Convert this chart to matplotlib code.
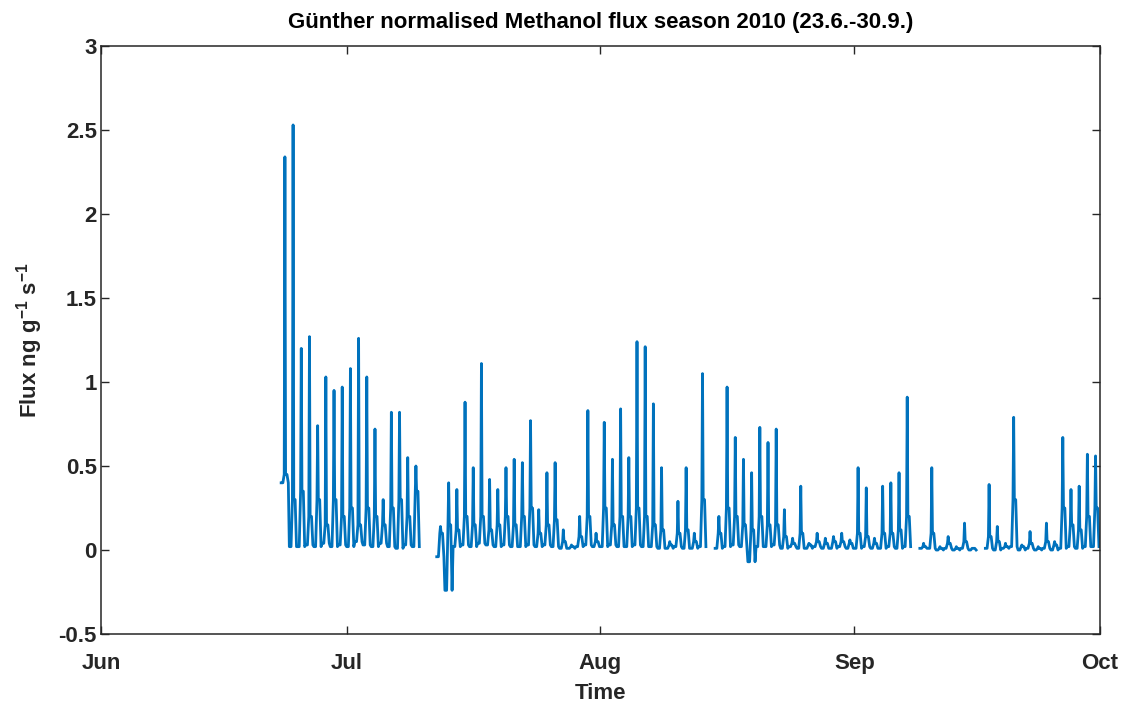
import numpy as np
import pandas as pd
import matplotlib
matplotlib.use("Agg")
import matplotlib.pyplot as plt

plt.rcParams["font.family"] = ["Liberation Sans", "DejaVu Sans"]
plt.rcParams["font.weight"] = "bold"
plt.rcParams["mathtext.fontset"] = "custom"
plt.rcParams["mathtext.rm"] = "Liberation Sans:bold"
plt.rcParams["mathtext.bf"] = "Liberation Sans:bold"

nan = np.nan

# one entry per day, 23 Jun .. 30 Sep 2010
first_day = "2010-06-23"
peak = [2.34, 2.53, 1.20, 1.27, 0.74, 1.03, 0.95, 0.97, 1.08, 1.26,
        1.03, 0.72, 0.30, 0.82, 0.82, 0.55, 0.50, nan, nan, 0.14,
        0.40, 0.36, 0.88, 0.49, 1.11, 0.42, 0.36, 0.49, 0.54, 0.52,
        0.77, 0.24, 0.46, 0.52, 0.12, 0.03, 0.20, 0.83, 0.10, 0.76,
        0.54, 0.84, 0.55, 1.24, 1.21, 0.87, 0.49, 0.05, 0.29, 0.49,
        0.10, 1.05, nan, 0.20, 0.97, 0.67, 0.54, 0.46, 0.73, 0.64,
        0.72, 0.24, 0.07, 0.38, 0.04, 0.10, 0.07, 0.08, 0.10, 0.06,
        0.49, 0.37, 0.07, 0.38, 0.40, 0.46, 0.91, nan, 0.04, 0.49,
        0.02, 0.08, 0.02, 0.16, 0.01, nan, 0.39, 0.14, 0.04, 0.79,
        0.03, 0.11, 0.02, 0.16, 0.05, 0.67, 0.36, 0.38, 0.57, 0.56]
afternoon = [0.45, 0.30, 0.35, 0.20, 0.30, 0.15, 0.30, 0.20, 0.25, 0.15,
             0.25, 0.20, 0.15, 0.25, 0.30, 0.20, 0.35, nan, nan, 0.10,
             0.15, 0.12, 0.20, 0.15, 0.20, 0.12, 0.15, 0.20, 0.15, 0.20,
             0.25, 0.10, 0.15, 0.18, 0.05, 0.02, 0.08, 0.20, 0.05, 0.25,
             0.15, 0.20, 0.20, 0.25, 0.20, 0.15, 0.12, 0.03, 0.10, 0.12,
             0.05, 0.30, nan, 0.10, 0.25, 0.20, 0.15, 0.12, 0.20, 0.15,
             0.15, 0.08, 0.04, 0.10, 0.03, 0.05, 0.04, 0.05, 0.05, 0.04,
             0.10, 0.08, 0.04, 0.10, 0.10, 0.12, 0.20, nan, 0.02, 0.10,
             0.01, 0.04, 0.01, 0.05, 0.01, nan, 0.08, 0.05, 0.02, 0.30,
             0.02, 0.04, 0.01, 0.05, 0.03, 0.25, 0.15, 0.12, 0.20, 0.25]
night = [0.40, 0.02, 0.02, 0.03, 0.02, 0.04, 0.02, 0.03, 0.02, 0.05,
         0.03, 0.02, 0.04, 0.02, 0.01, 0.03, 0.02, nan, nan, -0.04,
         -0.24, 0.02, 0.03, 0.02, 0.04, 0.03, 0.02, 0.03, 0.02, 0.02,
         0.03, 0.02, 0.03, 0.02, 0.01, 0.01, 0.02, 0.03, 0.02, 0.02,
         0.03, 0.02, 0.02, 0.03, 0.02, 0.02, 0.01, 0.01, 0.02, 0.01,
         0.01, 0.02, nan, 0.01, 0.02, 0.03, 0.02, -0.07, 0.02, 0.02,
         0.03, 0.01, 0.02, 0.01, 0.01, 0.02, 0.01, 0.01, 0.02, 0.01,
         0.01, 0.02, 0.01, 0.01, 0.02, 0.01, 0.02, nan, 0.01, 0.01,
         0.00, 0.01, 0.00, 0.01, 0.00, nan, 0.01, 0.00, 0.01, 0.02,
         0.00, 0.01, 0.00, 0.01, 0.00, 0.01, 0.02, 0.01, 0.02, 0.02]

month_ticks = ["2010-06-01", "2010-07-01", "2010-08-01", "2010-09-01", "2010-10-01"]
month_labels = ["Jun", "Jul", "Aug", "Sep", "Oct"]
y_ticks = [-0.5, 0, 0.5, 1, 1.5, 2, 2.5, 3]

# sample hours within each day and which daily value they take
hours = [0, 5, 9, 11, 13, 17, 21]
days = pd.date_range(first_day, periods=len(peak), freq="D")
t = []
v = []
for i, d in enumerate(days):
    vals = [night[i], night[i], afternoon[i], peak[i], afternoon[i], afternoon[i], night[i]]
    for h, val in zip(hours, vals):
        t.append(d + pd.Timedelta(hours=h))
        v.append(val)
t = np.array(t, dtype="datetime64[m]")
v = np.array(v)

fig = plt.figure(figsize=(11.26, 7.04), dpi=100)
ax = fig.add_axes([0.0897, 0.0994, 0.8872, 0.8353])
ax.plot(t, v, color="#0072BD", lw=2.0)

ax.set_xlim(np.datetime64(month_ticks[0]), np.datetime64(month_ticks[-1]))
ax.set_ylim(-0.5, 3)
ax.set_xticks([np.datetime64(m) for m in month_ticks])
ax.set_xticklabels(month_labels)
ax.set_yticks(y_ticks)
ax.set_yticklabels([f"{y:g}" for y in y_ticks])

dark = "#262626"
for s in ax.spines.values():
    s.set_color(dark)
    s.set_linewidth(1.1)
ax.tick_params(direction="in", top=True, right=True, length=6, width=1.0,
               colors=dark, labelsize=16)
ax.tick_params(axis="x", pad=14)
ax.tick_params(axis="y", pad=3)
for lab in ax.get_xticklabels() + ax.get_yticklabels():
    lab.set_fontweight("bold")

ax.set_xlabel("Time", fontsize=16, fontweight="bold", color=dark, labelpad=6)
ax.set_ylabel(r"Flux ng g$^{-1}$ s$^{-1}$", fontsize=16, fontweight="bold", color=dark, labelpad=10)
ax.set_title("Günther normalised Methanol flux season 2010 (23.6.-30.9.)",
             fontsize=16, fontweight="bold", color="black", pad=13)

fig.savefig("out.png", dpi=100)
